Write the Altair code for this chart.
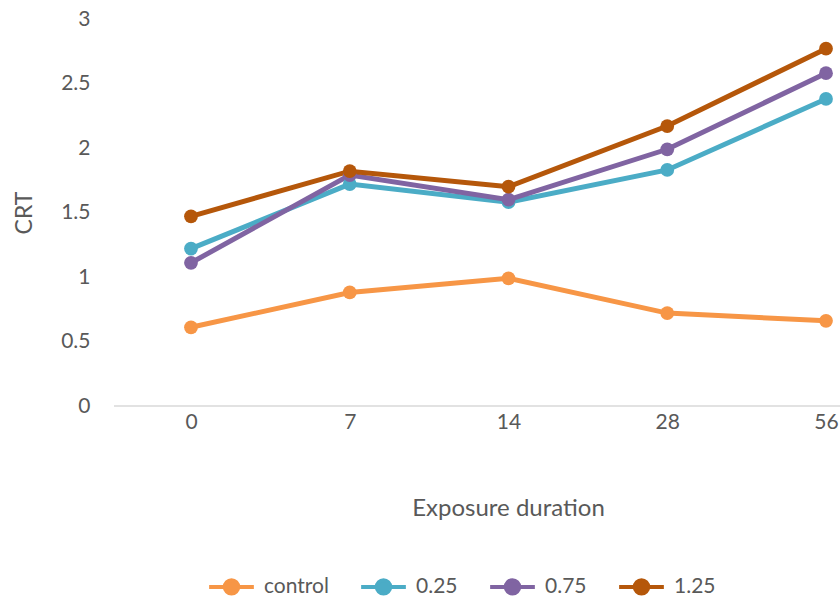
import altair as alt
import pandas as pd

days = ["0", "7", "14", "28", "56"]
series = ["control", "0.25", "0.75", "1.25"]
control = [0.61, 0.88, 0.99, 0.72, 0.66]
s025 = [1.22, 1.72, 1.58, 1.83, 2.38]
s075 = [1.11, 1.79, 1.60, 1.99, 2.58]
s125 = [1.47, 1.82, 1.70, 2.17, 2.77]
colors = ["#F79646", "#4BACC6", "#8064A2", "#B5570A"]

rows = []
for name, vals in zip(series, [control, s025, s075, s125]):
    for d, v in zip(days, vals):
        rows.append({"day": d, "CRT": v, "series": name})
df = pd.DataFrame(rows)

FONT = "Lato"
TEXT = "#595959"

x = alt.X("day:N", sort=days, title="Exposure duration",
          scale=alt.Scale(type="point", range=[77, 712], padding=0),
          axis=alt.Axis(labelAngle=0, labelFontSize=21, labelColor=TEXT, labelFont=FONT,
                        titleFontSize=24, titleColor=TEXT, titleFont=FONT, titleFontWeight="normal",
                        titlePadding=64, titleX=394,
                        domain=False, ticks=False, labelPadding=5,
                        grid=False))
y = alt.Y("CRT:Q", title="CRT",
          scale=alt.Scale(domain=[0, 3], nice=False),
          axis=alt.Axis(values=[0, 0.5, 1, 1.5, 2, 2.5, 3], format="~g",
                        labelFontSize=21, labelColor=TEXT, labelFont=FONT,
                        titleFontSize=23, titleColor=TEXT, titleFont=FONT, titleFontWeight="normal",
                        titlePadding=24, domain=False, ticks=False, grid=False, labelPadding=24))
color = alt.Color("series:N", sort=series,
                  scale=alt.Scale(domain=series, range=colors),
                  legend=alt.Legend(title=None, orient="none", direction="horizontal",
                                    legendX=93, legendY=543,
                                    symbolType="M-1,0L1,0M0.3,0A0.3,0.3 0 1 1 -0.3,0A0.3,0.3 0 1 1 0.3,0",
                                    symbolSize=2000, symbolStrokeWidth=4,
                                    labelFontSize=21, labelColor=TEXT, labelFont=FONT,
                                    labelOffset=8, columnPadding=24))

base = alt.Chart(df)
baseline = alt.Chart(pd.DataFrame({"v": [0]})).mark_rule(color="#D9D9D9", strokeWidth=1.5).encode(
    y=alt.Y("v:Q", scale=alt.Scale(domain=[0, 3], nice=False)),
    x=alt.value(0), x2=alt.value(726))
lines = base.mark_line(strokeWidth=5).encode(x=x, y=y, color=color)
points = base.mark_point(filled=True, size=190, opacity=1, shape="circle").encode(x=x, y=y, color=color)

chart = alt.layer(baseline, lines, points).properties(
    width=726, height=387,
    background="white",
    autosize=alt.AutoSizeParams(type="none"),
    padding={"left": 114, "top": 19, "right": 0, "bottom": 192},
).configure_view(strokeWidth=0, stroke="transparent")

chart.save("out.html", embed_options={"renderer": "svg", "actions": False})
